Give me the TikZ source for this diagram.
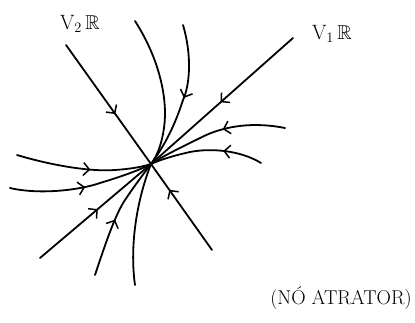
\documentclass[tikz,border=0pt]{standalone}
\usepackage{amssymb}
\usetikzlibrary{arrows.meta,decorations.markings}
\tikzset{
  traj/.style={line width=1.8pt,line cap=round},
  arr/.style={postaction={decorate},decoration={markings,mark=at position #1 with {\arrow[line width=1.5pt]{Straight Barb[length=6pt,width=13pt]}}}},
  lbl/.style={font=\fontsize{20}{24}\selectfont}
}
\begin{document}
\begin{tikzpicture}[x=1pt,y=-1pt]
\useasboundingbox (0,0) rectangle (415,323);
\coordinate (O) at (151,164);
% eigen-lines
\coordinate (v2a) at (66,45);
\coordinate (v2b) at (212,250);
\coordinate (v1a) at (293,38);
\coordinate (v1b) at (40,258);
\draw[traj,arr=0.58] (v2a) -- (O);
\draw[traj,arr=0.7] (v2b) -- (O);
\draw[traj,arr=0.51] (v1a) -- (O);
\draw[traj,arr=0.52] (v1b) -- (O);
% trajectories
\coordinate (a0) at (135,21);
\coordinate (b0) at (183,25);
\coordinate (c0) at (285,128);
\coordinate (d0) at (261,163);
\coordinate (e0) at (17,155);
\coordinate (f0) at (10,188);
\coordinate (g0) at (95,275);
\coordinate (h0) at (135,285);
\draw[traj] (a0) .. controls (160,60) and (168,100) .. (164,128) .. controls (162,142) and (158,155) .. (O);
\draw[traj,arr=0.5] (b0) .. controls (192,55) and (190,85) .. (183,100) .. controls (175,125) and (165,145) .. (O);
\draw[traj,arr=0.44] (c0) .. controls (255,122) and (225,125) .. (200,138) .. controls (180,148) and (165,155) .. (O);
\draw[traj,arr=0.35] (d0) .. controls (240,150) and (210,148) .. (190,152) .. controls (172,156) and (160,160) .. (O);
\draw[traj,arr=0.55] (e0) .. controls (50,165) and (90,172) .. (115,170) .. controls (130,169) and (142,167) .. (O);
\draw[traj,arr=0.52] (f0) .. controls (40,195) and (80,190) .. (100,183) .. controls (120,177) and (140,170) .. (O);
\draw[traj,arr=0.47] (g0) .. controls (105,245) and (115,215) .. (125,200) .. controls (135,185) and (145,172) .. (O);
\draw[traj] (h0) .. controls (130,250) and (135,205) .. (O);
% labels
\node[lbl] (l2) at (80,24) {$\mathrm{V}_2\,\mathbb{R}$};
\node[lbl] (l1) at (332,34) {$\mathrm{V}_1\,\mathbb{R}$};
\node[lbl] (na) at (341,298) {(NÓ ATRATOR)};
\end{tikzpicture}
\end{document}
